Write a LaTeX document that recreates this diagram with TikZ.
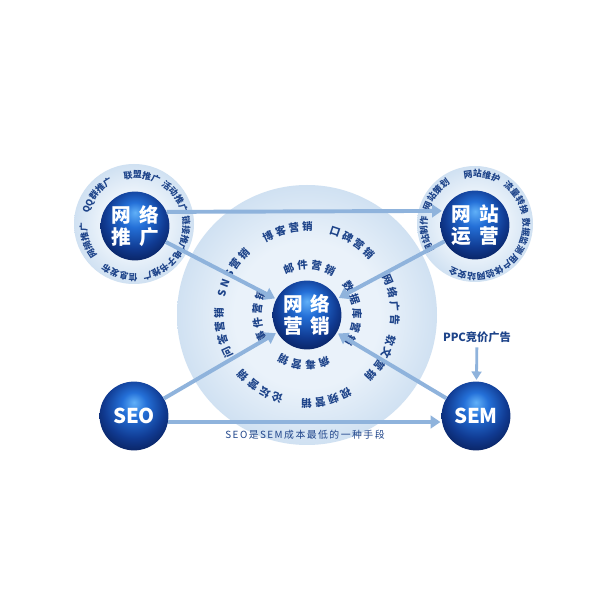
\documentclass[tikz,border=0pt]{standalone}
\usepackage{fontspec}
\newfontfamily\cjk{Noto Sans CJK SC}
\newfontfamily\cjkwide{Noto Sans CJK SC}[LetterSpace=15]
\usetikzlibrary{arrows.meta,decorations.text}

\definecolor{halo}{RGB}{208,225,242}
\definecolor{haloin}{RGB}{234,242,250}
\definecolor{arrowblue}{RGB}{143,179,220}
\definecolor{textblue}{RGB}{30,68,138}
\definecolor{sphhi}{RGB}{96,176,248}
\definecolor{sphmid}{RGB}{36,112,216}
\definecolor{sphdark}{RGB}{16,58,145}
\definecolor{sphedge}{RGB}{8,30,88}

\pgfdeclareradialshading{sphere}{\pgfpoint{0bp}{10bp}}{color(0bp)=(sphhi); color(9bp)=(sphmid); color(22bp)=(sphdark); color(32bp)=(sphedge); color(50bp)=(sphedge)}
\pgfdeclareradialshading{glow}{\pgfpoint{0bp}{0bp}}{color(0bp)=(haloin); color(14bp)=(haloin); color(25bp)=(halo); color(50bp)=(halo)}

\begin{document}
\begin{tikzpicture}[x=0.025cm,y=0.025cm,
  ball/.style={circle,minimum size=1.72cm,inner sep=0pt,shading=sphere,text=white,align=center,font=\cjk\bfseries\fontsize{14}{16}\selectfont},
  link/.style={draw=arrowblue,line width=2.8pt,-{Triangle[width=9pt,length=7pt]},shorten >=1pt},
  ringtext/.style={decorate,decoration={text along path,text align=center,text color=textblue,text={|\cjk\bfseries\fontsize{6.3}{8}\selectfont|#1}}},
  maintext/.style={decorate,decoration={text along path,text align=center,text color=textblue,text={|\cjk\bfseries\fontsize{7.5}{9}\selectfont|#1}}}]
 \useasboundingbox[fill=white] (0,0) rectangle (600,600);
 % halos
 \shade[shading=glow] (307,285) circle[radius=130];
 \shade[shading=glow] (134,376) circle[radius=60];
 \shade[shading=glow] (475,376) circle[radius=58];
 % spheres
 \node[ball] (wl) at (307,285) {网\hspace{5pt}络\\营\hspace{5pt}销};
 \node[ball] (tg) at (135,374) {网\hspace{6pt}络\\推\hspace{6pt}广};
 \node[ball] (yy) at (475,375) {网\hspace{6pt}站\\运\hspace{6pt}营};
 \node[ball,font=\cjk\bfseries\fontsize{14.5}{16}\selectfont] (seo) at (134,184) {SEO};
 \node[ball,font=\cjk\bfseries\fontsize{14.5}{16}\selectfont] (sem) at (476,184) {SEM};
 \node[text=textblue,font=\cjk\bfseries\fontsize{8}{10}\selectfont] (ppc) at (477,263) {PPC竞价广告};
 % ring of tg
 \path[ringtext=联盟推广] (tg.center) ++(122:48) arc[start angle=122,end angle=42,radius=48];
 \path[ringtext=活动推广] (tg.center) ++(76:48) arc[start angle=76,end angle=-4,radius=48];
 \path[ringtext=链接推广] (tg.center) ++(30:48) arc[start angle=30,end angle=-50,radius=48];
 \path[ringtext=电子书推广] (tg.center) ++(-10:48) arc[start angle=-10,end angle=-100,radius=48];
 \path[ringtext=信息发布] (tg.center) ++(-68:48) arc[start angle=-68,end angle=-148,radius=48];
 \path[ringtext=网摘推广] (tg.center) ++(237:48) arc[start angle=237,end angle=157,radius=48];
 \path[ringtext=QQ群推广] (tg.center) ++(181:48) arc[start angle=181,end angle=101,radius=48];
 % ring of yy
 \path[ringtext=网站维护] (yy.center) ++(122:48) arc[start angle=122,end angle=42,radius=48];
 \path[ringtext=流量转换] (yy.center) ++(73:48) arc[start angle=73,end angle=-7,radius=48];
 \path[ringtext=数据监测] (yy.center) ++(27:48) arc[start angle=27,end angle=-53,radius=48];
 \path[ringtext=用户体验] (yy.center) ++(-17:48) arc[start angle=-17,end angle=-97,radius=48];
 \path[ringtext=网站安全] (yy.center) ++(-59:48) arc[start angle=-59,end angle=-139,radius=48];
 \path[ringtext=网站制作] (yy.center) ++(231:48) arc[start angle=231,end angle=151,radius=48];
 \path[ringtext=网站策划] (yy.center) ++(182:48) arc[start angle=182,end angle=102,radius=48];
 % inner ring of wl
 \path[maintext=邮 件 营 销] (wl.center) ++(137:46) arc[start angle=137,end angle=37,radius=46];
 \path[maintext=数 据 库 营 销] (wl.center) ++(52:46) arc[start angle=52,end angle=-48,radius=46];
 \path[maintext=病 毒 营 销] (wl.center) ++(-44:46) arc[start angle=-44,end angle=-144,radius=46];
 \path[maintext=事 件 营 销] (wl.center) ++(231:46) arc[start angle=231,end angle=131,radius=46];
 % outer ring of wl
 \path[maintext=博 客 营 销] (wl.center) ++(133:84) arc[start angle=133,end angle=73,radius=84];
 \path[maintext=口 碑 营 销] (wl.center) ++(88:84) arc[start angle=88,end angle=28,radius=84];
 \path[maintext=网 络 广 告] (wl.center) ++(40:84) arc[start angle=40,end angle=-20,radius=84];
 \path[maintext=软 文 营 销] (wl.center) ++(0:84) arc[start angle=0,end angle=-60,radius=84];
 \path[maintext=视 频 营 销] (wl.center) ++(-47:84) arc[start angle=-47,end angle=-107,radius=84];
 \path[maintext=论 坛 营 销] (wl.center) ++(-93:84) arc[start angle=-93,end angle=-153,radius=84];
 \path[maintext=问 答 营 销] (wl.center) ++(222:84) arc[start angle=222,end angle=162,radius=84];
 \path[maintext=S N S 营 销] (wl.center) ++(180:84) arc[start angle=180,end angle=120,radius=84];
 % arrows
 \draw[link] (tg.24) -- (yy.156);
 \draw[link] (tg) -- (wl);
 \draw[link] (yy) -- (wl);
 \draw[link] (seo) -- (wl);
 \draw[link] (sem) -- (wl);
 \draw[link] (seo.-10) -- node[below=1pt,text=textblue,font=\cjkwide\fontsize{7}{8}\selectfont] {SEO是SEM成本最低的一种手段} (sem.190);
 \draw[link,line width=2pt,-{Triangle[width=7pt,length=6pt]}] (ppc) -- (sem);
\end{tikzpicture}
\end{document}
